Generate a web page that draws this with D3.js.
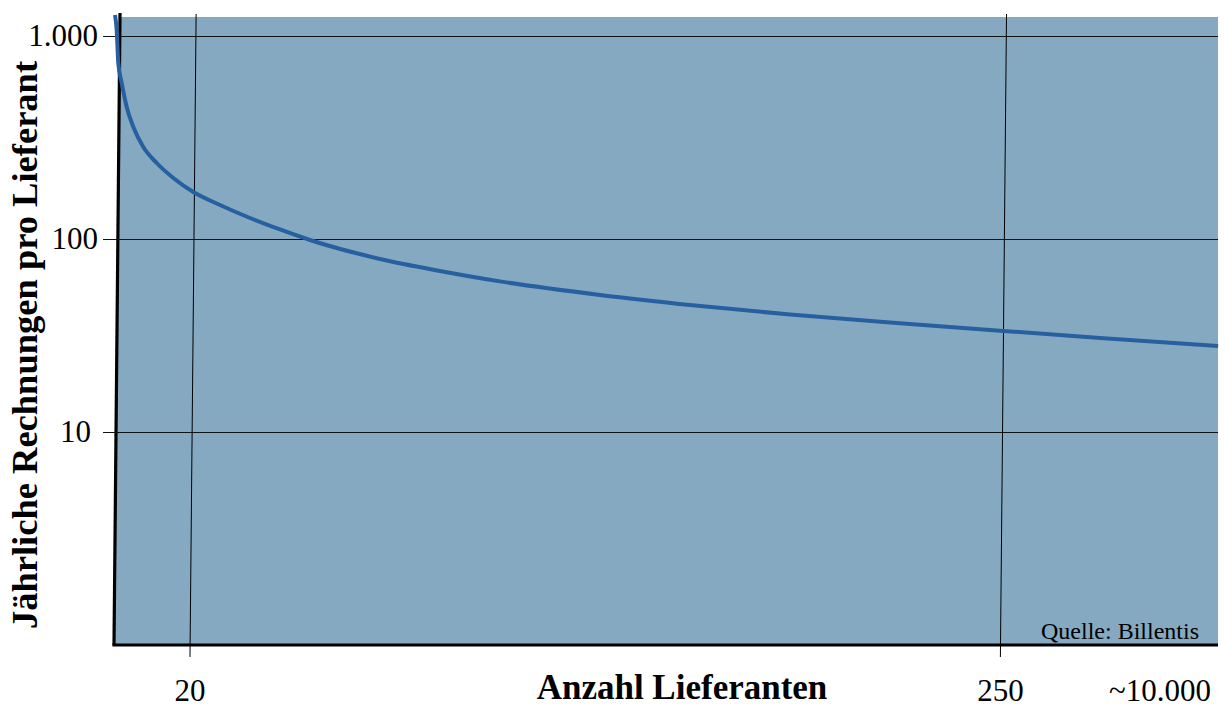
<!DOCTYPE html>
<html>
<head>
  <meta charset="utf-8">
  <style>
    body { margin: 0; background: #fff; }
    text { font-family: "Liberation Serif", "Times New Roman", serif; }
  </style>
</head>
<body>
<div id="chart"></div>
<script src="https://d3js.org/d3.v7.min.js"></script>
<script>

  // curve: number of suppliers -> yearly invoices per supplier
  const supplierCounts = [-1.17, -0.69, -0.24, 0.73, 2.15, 4.03, 6.86, 10.66, 15.38, 21.06, 28.63, 37.14, 45.66, 54.17, 74.04, 91.06, 108.1, 136.5, 162, 190.4, 224.4, 250.9, 278.4, 311.9];
  const invoicesPerSupplier = [1269, 1070, 736, 587, 447, 356, 284, 236.8, 199.8, 170.4, 147.1, 126.9, 111.4, 98.8, 78.8, 68.3, 60.3, 51.3, 45.5, 40.6, 36.3, 33.4, 30.7, 27.9];

  const xTickValues = [20, 250];
  const xTickLabels = ["20", "250"];
  const xEndLabel = "~10.000";
  const yTickValues = [10, 100, 1000];
  const yTickLabels = ["10", "100", "1.000"];

  const width = 1225, height = 704;
  const plotLeft = 114, plotRight = 1218, plotTop = 17, plotBottom = 645;

  const svg = d3.select('#chart')
    .append('svg')
    .attr('width', width)
    .attr('height', height);

  const x = d3.scaleLinear().domain([20, 250]).range([189.6, 1000]);
  const y = d3.scaleLog().domain([10, 100, 1000]).range([432, 239, 36]);

  // the frame is slightly slanted: verticals lean to the right towards the top
  const skew = `translate(0,${plotBottom}) skewX(-0.546) translate(0,${-plotBottom})`;

  svg.append('clipPath').attr('id', 'clip')
    .append('rect').attr('x', 0).attr('y', 0).attr('width', plotRight).attr('height', height);

  const frame = svg.append('g').attr('clip-path', 'url(#clip)')
    .append('g').attr('transform', skew);

  frame.append('rect')
    .attr('x', plotLeft)
    .attr('y', plotTop)
    .attr('width', plotRight - plotLeft + 20)
    .attr('height', plotBottom - plotTop)
    .attr('fill', '#86a9c2');

  // horizontal grid + y labels
  const yAxis = svg.append('g')
    .attr('transform', 'translate(103,0)')
    .call(d3.axisLeft(y)
      .tickValues(yTickValues)
      .tickSize(-(plotRight - 103))
      .tickPadding(5)
      .tickFormat((d, i) => yTickLabels[i]));
  yAxis.select('.domain').remove();
  yAxis.selectAll('line').attr('stroke', '#111').attr('stroke-width', 1.2);
  yAxis.selectAll('text')
    .attr('font-family', '"Liberation Serif", serif')
    .attr('font-size', 31)
    .attr('fill', '#000')
    .attr('dx', d => d === 10 ? -7 : 0);

  // vertical grid lines (slanted)
  const xGrid = frame.append('g')
    .attr('transform', 'translate(0,657)')
    .call(d3.axisBottom(x)
      .tickValues(xTickValues)
      .tickSize(-(657 - 14))
      .tickFormat(''));
  xGrid.select('.domain').remove();
  xGrid.selectAll('line').attr('stroke', '#000').attr('stroke-width', 1);

  // left axis line
  frame.append('line')
    .attr('x1', plotLeft).attr('y1', plotBottom)
    .attr('x2', plotLeft).attr('y2', 13)
    .attr('stroke', '#000')
    .attr('stroke-width', 3.2);

  // bottom axis line
  svg.append('line')
    .attr('x1', plotLeft - 1.6).attr('y1', plotBottom)
    .attr('x2', plotRight).attr('y2', plotBottom)
    .attr('stroke', '#000')
    .attr('stroke-width', 3.2);

  // x labels
  const xLabels = svg.append('g')
    .attr('transform', 'translate(0,679)')
    .call(d3.axisBottom(x)
      .tickValues(xTickValues)
      .tickSize(0)
      .tickPadding(0)
      .tickFormat((d, i) => xTickLabels[i]));
  xLabels.select('.domain').remove();
  xLabels.selectAll('text')
    .attr('font-family', '"Liberation Serif", serif')
    .attr('font-size', 31)
    .attr('fill', '#000');

  svg.append('text')
    .attr('x', 1160).attr('y', 701)
    .attr('text-anchor', 'middle')
    .attr('font-size', 31)
    .text(xEndLabel);

  svg.append('text')
    .attr('x', 682).attr('y', 699)
    .attr('text-anchor', 'middle')
    .attr('font-size', 35)
    .attr('font-weight', 'bold')
    .text('Anzahl Lieferanten');

  svg.append('text')
    .attr('transform', 'translate(37,345) rotate(-90)')
    .attr('text-anchor', 'middle')
    .attr('font-size', 36.5)
    .attr('font-weight', 'bold')
    .text('Jährliche Rechnungen pro Lieferant');

  svg.append('text')
    .attr('x', 1199).attr('y', 639)
    .attr('text-anchor', 'end')
    .attr('font-size', 24)
    .text('Quelle: Billentis');

  // curve
  const points = supplierCounts.map((d, i) => [d, invoicesPerSupplier[i]]);
  const line = d3.line()
    .x(d => x(d[0]))
    .y(d => y(d[1]))
    .curve(d3.curveMonotoneX);

  svg.append('path')
    .datum(points)
    .attr('d', line)
    .attr('fill', 'none')
    .attr('stroke', '#2660a0')
    .attr('stroke-width', 4)
    .attr('stroke-linecap', 'butt');

</script>
</body>
</html>
